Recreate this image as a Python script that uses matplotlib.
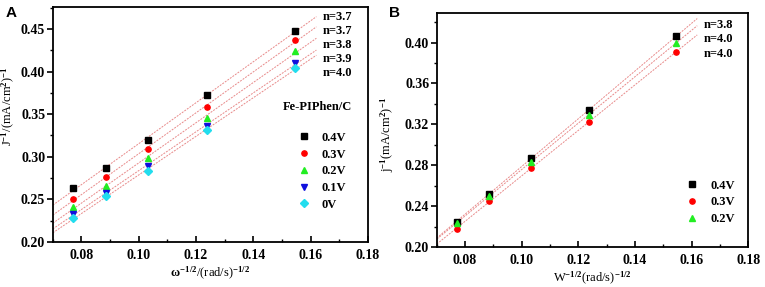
import matplotlib.pyplot as plt
import numpy as np

# omega^-1/2 values (same for both panels)
x_w = [0.0772, 0.0884, 0.1031, 0.1237, 0.1546]

# panel A: Fe-PIPhen/C
labels_a = ['0.4V', '0.3V', '0.2V', '0.1V', '0V']
y_a_04 = [0.263, 0.287, 0.320, 0.372, 0.448]
y_a_03 = [0.251, 0.276, 0.309, 0.358, 0.437]
y_a_02 = [0.241, 0.266, 0.298, 0.346, 0.424]
y_a_01 = [0.233, 0.258, 0.289, 0.336, 0.410]
y_a_00 = [0.228, 0.254, 0.283, 0.331, 0.404]
n_a = ['n=3.7', 'n=3.7', 'n=3.8', 'n=3.9', 'n=4.0']

# panel B
labels_b = ['0.4V', '0.3V', '0.2V']
y_b_04 = [0.225, 0.252, 0.287, 0.334, 0.406]
y_b_03 = [0.218, 0.245, 0.277, 0.322, 0.391]
y_b_02 = [0.224, 0.250, 0.283, 0.329, 0.400]
n_b = ['n=3.8', 'n=4.0', 'n=4.0']

plt.rcParams['font.family'] = 'Liberation Serif'
plt.rcParams['font.weight'] = 'bold'
plt.rcParams['mathtext.fontset'] = 'custom'
plt.rcParams['mathtext.rm'] = 'Liberation Serif:bold'
plt.rcParams['mathtext.it'] = 'Liberation Serif:bold'
plt.rcParams['mathtext.bf'] = 'Liberation Serif:bold'

fs = 9          # texts in the plot
fs_tick = 10
fs_lab = 9
colors = ['black', 'red', '#22ee22', '#1010dd', '#22ddee']
markers = ['s', 'o', '^', 'v', 'D']
fitcol = '#e88a8a'

fig = plt.figure(figsize=(7.65, 2.87), dpi=100)
ax1 = fig.add_axes([0.069, 0.157, 0.412, 0.819])
ax2 = fig.add_axes([0.571, 0.139, 0.407, 0.816])


def draw(ax, series, labels, fit_end):
    xx = np.array([0.07, fit_end])
    for i, ys in enumerate(series):
        k, b = np.polyfit(x_w, ys, 1)
        ax.plot(xx, k * xx + b, color=fitcol, lw=0.7, ls=(0, (2, 1.2)), zorder=1)
    for i, ys in enumerate(series):
        ax.plot(x_w, ys, ls='none', marker=markers[i], color=colors[i],
                markersize=3.8, label=labels[i], zorder=3)


def style(ax, ylim, ymaj, ymin):
    ax.set_xlim(0.07, 0.18)
    ax.set_ylim(*ylim)
    ax.set_xticks(np.arange(0.08, 0.181, 0.02))
    ax.set_xticks(np.arange(0.07, 0.181, 0.01), minor=True)
    ax.set_yticks(np.arange(0.20, ylim[1], ymaj))
    ax.set_yticks(np.arange(0.20, ylim[1], ymin), minor=True)
    ax.xaxis.set_major_formatter(plt.FormatStrFormatter('%.2f'))
    ax.yaxis.set_major_formatter(plt.FormatStrFormatter('%.2f'))
    ax.tick_params(axis='x', which='both', direction='in', top=False, pad=5)
    ax.tick_params(axis='y', which='both', direction='out', right=False, pad=1.5)
    ax.tick_params(which='major', length=4, width=1.2, labelsize=fs_tick)
    ax.tick_params(which='minor', length=2.5, width=1.0)
    for s in ax.spines.values():
        s.set_linewidth(1.3)


draw(ax1, [y_a_04, y_a_03, y_a_02, y_a_01, y_a_00], labels_a, 0.162)
style(ax1, (0.20, 0.476), 0.05, 0.025)
ax1.set_xlabel(r'$\omega^{-1/2}$/(rad/s)$^{-1/2}$', fontsize=fs_lab, labelpad=2)
ax1.set_ylabel(r'J$^{-1}$/(mA/cm$^{2}$)$^{-1}$', fontsize=9)
ax1.yaxis.set_label_coords(-0.112, 0.58)
for i, t in enumerate(n_a):
    ax1.text(0.902, 0.957 - i * 0.06, t, transform=ax1.transAxes,
             ha='center', va='center', fontsize=fs)
ax1.text(0.841, 0.574, 'Fe-PIPhen/C', transform=ax1.transAxes,
         ha='center', va='center', fontsize=fs)
ax1.legend(loc='upper left', bbox_to_anchor=(0.75, 0.49), frameon=False,
           fontsize=fs, handletextpad=0.7, labelspacing=0.38, borderaxespad=0,
           handlelength=1.5)

draw(ax2, [y_b_04, y_b_03, y_b_02], labels_b, 0.162)
style(ax2, (0.20, 0.429), 0.04, 0.02)
ax2.set_xlabel(r'W$^{-1/2}$(rad/s)$^{-1/2}$', fontsize=fs_lab, labelpad=2)
ax2.set_ylabel(r'j$^{-1}$(mA/cm$^{2}$)$^{-1}$', fontsize=9)
ax2.yaxis.set_label_coords(-0.13, 0.48)
for i, t in enumerate(n_b):
    ax2.text(0.904, 0.949 - i * 0.062, t, transform=ax2.transAxes,
             ha='center', va='center', fontsize=fs)
ax2.legend(loc='upper left', bbox_to_anchor=(0.775, 0.31), frameon=False,
           fontsize=fs, handletextpad=0.7, labelspacing=0.38, borderaxespad=0,
           handlelength=1.5)

fig.text(0.008, 0.955, 'A', fontsize=11, fontweight='bold', family='Liberation Sans',
         va='center')
fig.text(0.508, 0.955, 'B', fontsize=11, fontweight='bold', family='Liberation Sans',
         va='center')

fig.savefig('out.png', dpi=100)
